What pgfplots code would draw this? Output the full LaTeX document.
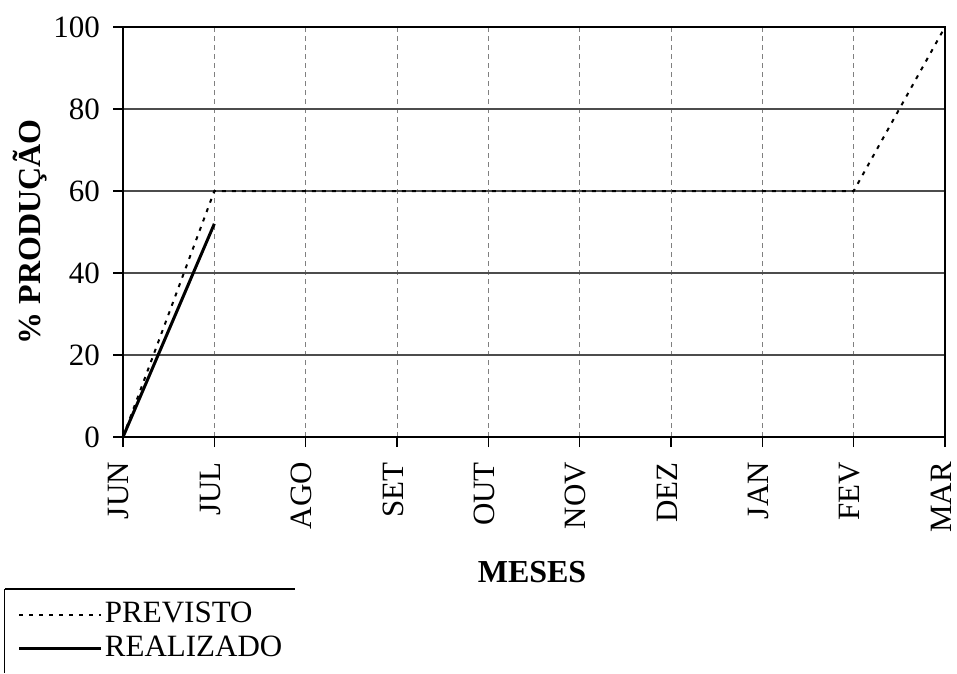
\documentclass[border=0pt]{standalone}
\usepackage{pgfplots}
\pgfplotsset{compat=1.18}
\usepackage{fontspec}
\setmainfont{Liberation Serif}
\begin{document}
\fontsize{31}{37}\selectfont
\begin{tikzpicture}[x=1pt,y=1pt]
\path[use as bounding box] (0,0) rectangle (957,673);
\begin{axis}[
  at={(123pt,236pt)}, anchor=south west,
  scale only axis, width=822pt, height=410pt,
  xmin=0, xmax=9, ymin=0, ymax=100,
  xtick={0,...,9},
  xticklabels={JUN,JUL,AGO,SET,OUT,NOV,DEZ,JAN,FEV,MAR},
  ytick={0,20,40,60,80,100},
  /pgf/number format/assume math mode=true,
  ticklabel style={font=\fontsize{31}{37}\selectfont},
  xticklabel style={xshift=-4pt, rotate=90, anchor=east, inner xsep=15pt, inner ysep=0pt},
  yticklabel style={inner xsep=13pt},
  tick align=outside, major tick length=10pt,
  xtick pos=bottom, ytick pos=left,
  tick style={black, line width=1.2pt},
  axis line style={black, line width=2.5pt},
  xmajorgrids, ymajorgrids,
  x grid style={black!50, line width=1pt, dash pattern=on 5pt off 4pt},
  y grid style={black!70, line width=1.5pt},
  xlabel={\bfseries MESES},
  ylabel={\bfseries \% PRODUÇÃO},
  label style={font=\fontsize{32}{38}\selectfont},
  xlabel style={at={(axis description cs:0.4976,-0.329)}, anchor=center},
  ylabel style={at={(axis description cs:-0.1131,0.5)}, anchor=center},
  clip=false,
  legend image code/.code={\draw[#1] (0pt,0pt) -- (82pt,0pt);},
  legend style={at={(axis description cs:-0.128,-0.398)}, anchor=north west,
    draw=none, fill=none, font=\fontsize{31}{37}\selectfont,
    inner sep=0pt, row sep=4pt,
    nodes={inner sep=2pt}},
  legend cell align=left,
]
\addplot[black, line width=2pt, dash pattern=on 4pt off 6pt] coordinates {
  (0,0) (1,60) (2,60) (3,60) (4,60) (5,60) (6,60) (7,60) (8,60) (9,100)};
\addlegendentry{PREVISTO}
\addplot[black, line width=3pt] coordinates {(0,0) (1,52)};
\addlegendentry{REALIZADO}
\draw[black, line width=1.5pt] (axis description cs:-0.1436,-0.371) -- (axis description cs:0.2092,-0.371);
\draw[black, line width=1pt] (axis description cs:-0.1436,-0.371) -- (axis description cs:-0.1436,-0.5756);
\end{axis}
\end{tikzpicture}
\end{document}
